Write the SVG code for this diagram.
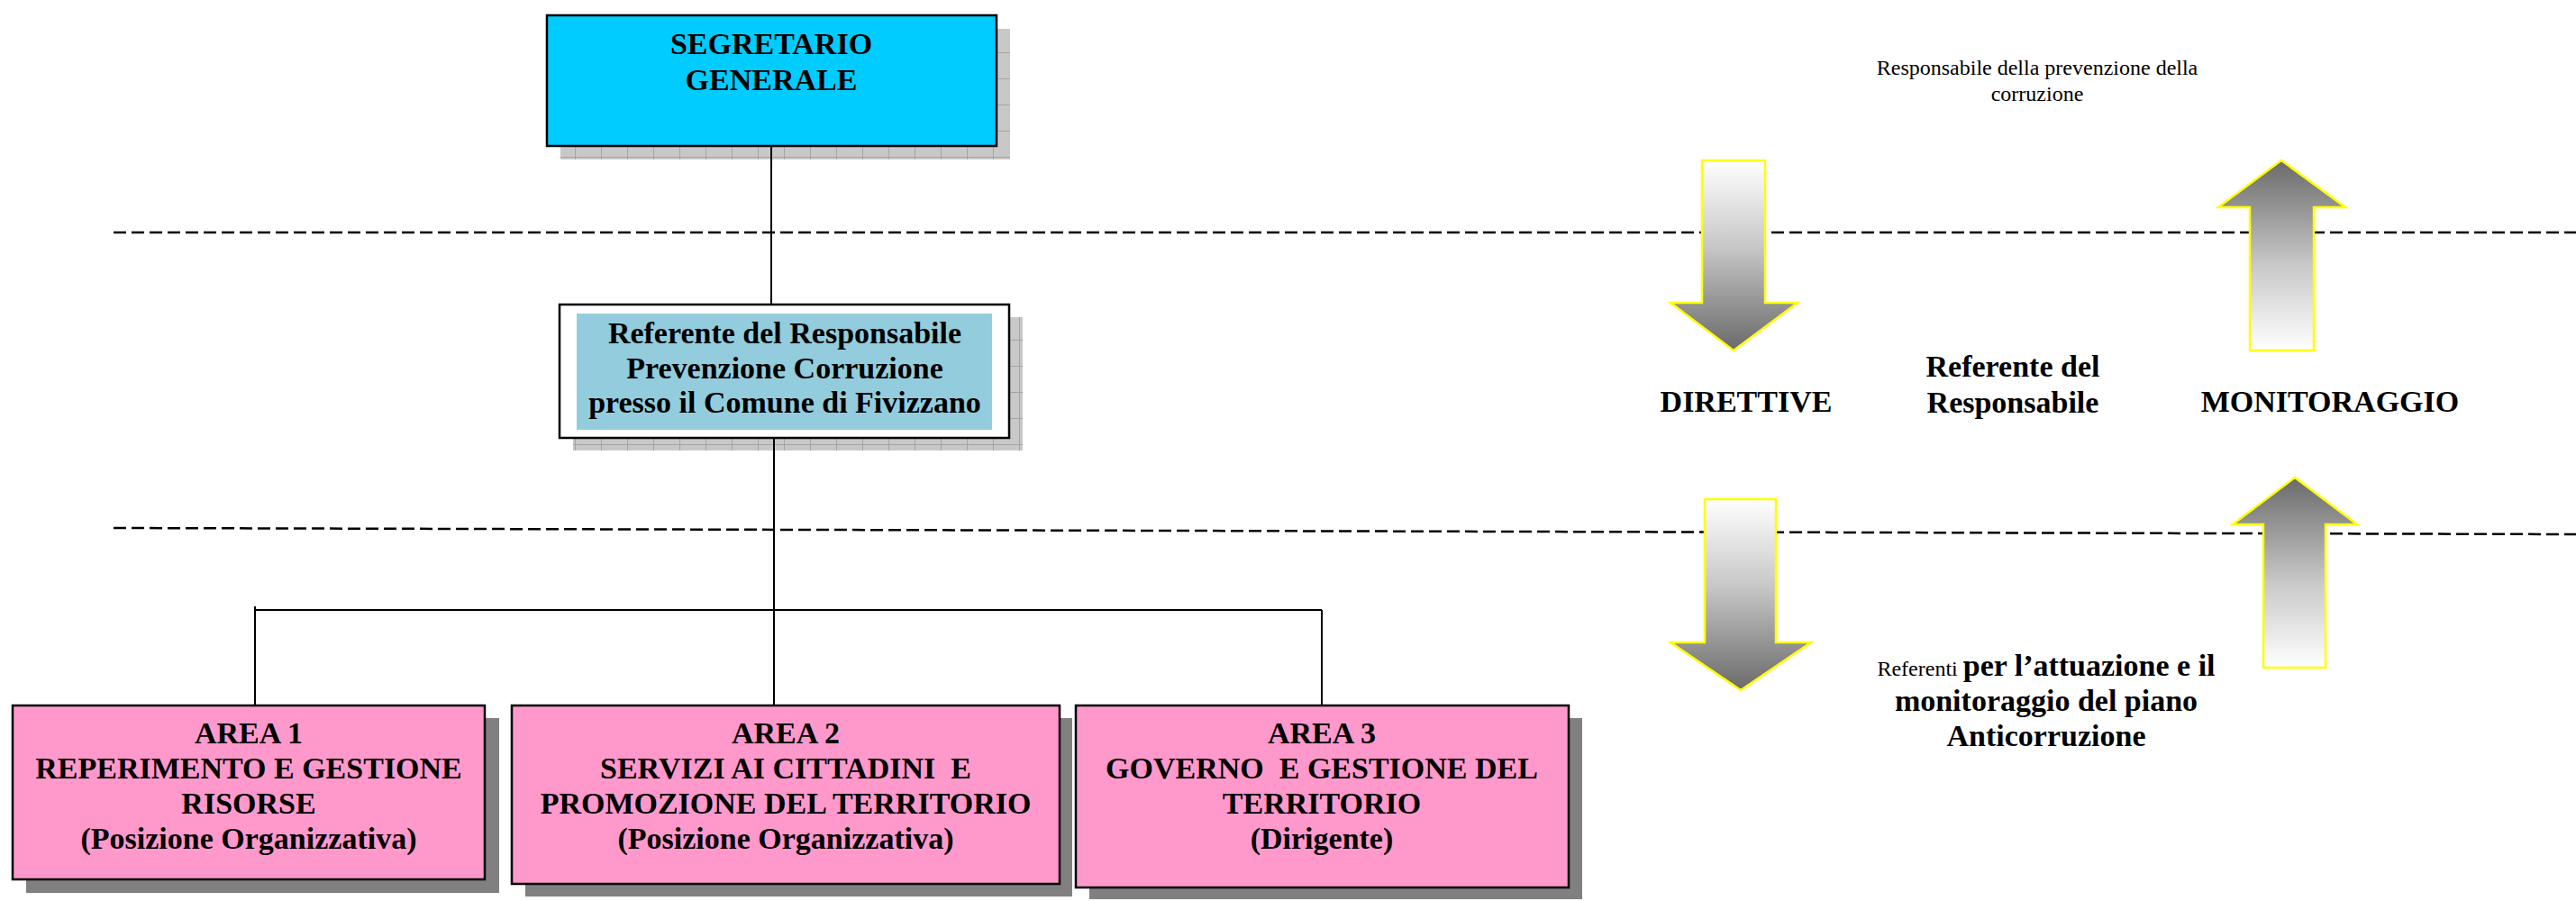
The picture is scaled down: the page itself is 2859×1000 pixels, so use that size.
<svg xmlns="http://www.w3.org/2000/svg" width="2859" height="1000" viewBox="0 0 2859 1000">
<style>
.b{font-family:"Liberation Serif","Times New Roman",serif;font-weight:bold;font-size:34px;text-anchor:middle;fill:#000}
.r{font-family:"Liberation Serif","Times New Roman",serif;font-weight:normal;font-size:24px;text-anchor:middle;fill:#000}
.box{stroke:#000;stroke-width:2.5}
.sh{fill:#808080}
.conn{stroke:#000;stroke-width:2;fill:none}
.dash{stroke:#000;stroke-width:2.5;stroke-dasharray:14 6;fill:none}
.arr{stroke:#ffff00;stroke-width:2.5}
</style>
<defs>
<pattern id="grid" width="29" height="29" patternUnits="userSpaceOnUse">
<rect width="29" height="29" fill="#c8c8c8"/>
<path d="M0.5 0 V29 M0 0.5 H29" stroke="#a4a4a4" stroke-width="1"/>
</pattern>
<linearGradient id="gDown" x1="0" y1="0" x2="0" y2="1">
<stop offset="0" stop-color="#ffffff"/>
<stop offset="0.45" stop-color="#c8c8c8"/>
<stop offset="1" stop-color="#6a6a6a"/>
</linearGradient>
<linearGradient id="gUp" x1="0" y1="1" x2="0" y2="0">
<stop offset="0" stop-color="#ffffff"/>
<stop offset="0.45" stop-color="#c8c8c8"/>
<stop offset="1" stop-color="#6a6a6a"/>
</linearGradient>
</defs>
<rect width="2859" height="1000" fill="#ffffff"/>

<g id="dividers">
<path class="dash" d="M126 258 H2859"/>
<path class="dash" d="M126 586 L2859 593"/>
</g>

<g id="segretario">
<rect x="622" y="32" width="499" height="145" fill="url(#grid)"/>
<rect class="box" x="607" y="17" width="499" height="145" fill="#00ccff"/>
<text class="b" x="856" y="60">SEGRETARIO</text>
<text class="b" x="856" y="100">GENERALE</text>
</g>

<g id="referente">
<rect x="636" y="352" width="499" height="148" fill="url(#grid)"/>
<rect class="box" x="621" y="338" width="499" height="148" fill="#ffffff"/>
<rect x="640" y="348" width="461" height="129" fill="#93cddd"/>
<text class="b" x="871" y="381">Referente del Responsabile</text>
<text class="b" x="871" y="420">Prevenzione Corruzione</text>
<text class="b" x="871" y="458">presso il Comune di Fivizzano</text>
</g>

<g id="area1">
<rect class="sh" x="29" y="797" width="525" height="194"/>
<rect class="box" x="14" y="783" width="524" height="193" fill="#ff99cc"/>
<text class="b" x="276" y="825">AREA 1</text>
<text class="b" x="276" y="864">REPERIMENTO E GESTIONE</text>
<text class="b" x="276" y="903">RISORSE</text>
<text class="b" x="276" y="942">(Posizione Organizzativa)</text>
</g>

<g id="area2">
<rect class="sh" x="583" y="797" width="607" height="198"/>
<rect class="box" x="568" y="783" width="608" height="198" fill="#ff99cc"/>
<text class="b" x="872" y="825">AREA 2</text>
<text class="b" x="872" y="864" xml:space="preserve">SERVIZI AI CITTADINI  E</text>
<text class="b" x="872" y="903">PROMOZIONE DEL TERRITORIO</text>
<text class="b" x="872" y="942">(Posizione Organizzativa)</text>
</g>

<g id="area3">
<rect class="sh" x="1209" y="797" width="547" height="201"/>
<rect class="box" x="1194" y="783" width="547" height="202" fill="#ff99cc"/>
<text class="b" x="1467" y="825">AREA 3</text>
<text class="b" x="1467" y="864" xml:space="preserve">GOVERNO  E GESTIONE DEL</text>
<text class="b" x="1467" y="903">TERRITORIO</text>
<text class="b" x="1467" y="942">(Dirigente)</text>
</g>

<g id="connectors">
<path class="conn" d="M856 162 V338"/>
<path class="conn" d="M859 486 V783"/>
<path class="conn" d="M283 677 H1467"/>
<path class="conn" d="M283 673 V783"/>
<path class="conn" d="M1467 677 V783"/>
</g>

<g id="arrows">
<path class="arr" fill="url(#gDown)" d="M1889 178 H1959 V336 H1995 L1924 389 L1854 336 H1889 Z"/>
<path class="arr" fill="url(#gUp)" d="M2532 178 L2603 230 H2568 V389 H2497 V230 H2462 Z"/>
<path class="arr" fill="url(#gDown)" d="M1892 554 H1971 V713 H2010 L1932 766 L1854 713 H1892 Z"/>
<path class="arr" fill="url(#gUp)" d="M2547 530 L2616 582 H2581 V741 H2512 V582 H2478 Z"/>
</g>

<g id="labels">
<text class="r" x="2261" y="83">Responsabile della prevenzione della</text>
<text class="r" x="2261" y="112">corruzione</text>
<text class="b" x="1938" y="457">DIRETTIVE</text>
<text class="b" x="2234" y="418">Referente del</text>
<text class="b" x="2234" y="458">Responsabile</text>
<text class="b" x="2586" y="457">MONITORAGGIO</text>
<text class="b" x="2271" y="750"><tspan style="font-weight:normal;font-size:24px">Referenti </tspan>per l’attuazione e il</text>
<text class="b" x="2271" y="789">monitoraggio del piano</text>
<text class="b" x="2271" y="828">Anticorruzione</text>
</g>
</svg>
